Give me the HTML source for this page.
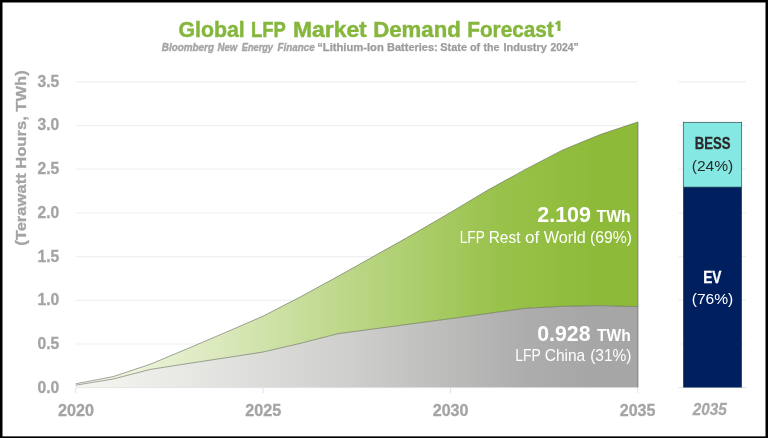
<!DOCTYPE html>
<html><head><meta charset="utf-8"><title>Global LFP Market Demand Forecast</title>
<style>
html,body{margin:0;padding:0;background:#000;}
body{width:768px;height:438px;overflow:hidden;font-family:"Liberation Sans",sans-serif;}
svg{display:block;font-family:"Liberation Sans",sans-serif;}
</style></head><body>
<svg width="768" height="438" viewBox="0 0 768 438">
<defs>
<linearGradient id="gg" gradientUnits="userSpaceOnUse" x1="76" y1="0" x2="638" y2="0">
<stop offset="0" stop-color="#f6f9ee"/><stop offset="0.25" stop-color="#dbe9bd"/><stop offset="0.5" stop-color="#bad684"/><stop offset="0.75" stop-color="#99c24b"/><stop offset="0.92" stop-color="#8dbb39"/><stop offset="1" stop-color="#8dbb39"/>
</linearGradient>
<linearGradient id="gr" gradientUnits="userSpaceOnUse" x1="76" y1="0" x2="638" y2="0">
<stop offset="0" stop-color="#f6f7f1"/><stop offset="0.2" stop-color="#e7e8e4"/><stop offset="0.5" stop-color="#cdcdcb"/><stop offset="0.8" stop-color="#adadad"/><stop offset="0.92" stop-color="#a6a6a6"/><stop offset="1" stop-color="#a6a6a6"/>
</linearGradient>
<filter id="sb" x="-2%" y="-2%" width="104%" height="104%"><feGaussianBlur stdDeviation="0.32"/></filter>
</defs>
<rect x="0" y="0" width="768" height="438" fill="#000"/>
<rect x="2.5" y="2.5" width="763" height="433.85" fill="#fff"/>
<g stroke="#f0f0f0" stroke-width="1.2">
<line x1="76" y1="81.8" x2="637.5" y2="81.8"/><line x1="678.4" y1="81.8" x2="746" y2="81.8"/>
<line x1="76" y1="125.5" x2="637.5" y2="125.5"/><line x1="678.4" y1="125.5" x2="746" y2="125.5"/>
<line x1="76" y1="169.2" x2="637.5" y2="169.2"/><line x1="678.4" y1="169.2" x2="746" y2="169.2"/>
<line x1="76" y1="212.9" x2="637.5" y2="212.9"/><line x1="678.4" y1="212.9" x2="746" y2="212.9"/>
<line x1="76" y1="256.6" x2="637.5" y2="256.6"/><line x1="678.4" y1="256.6" x2="746" y2="256.6"/>
<line x1="76" y1="300.3" x2="637.5" y2="300.3"/><line x1="678.4" y1="300.3" x2="746" y2="300.3"/>
<line x1="76" y1="344.0" x2="637.5" y2="344.0"/><line x1="678.4" y1="344.0" x2="746" y2="344.0"/>
</g>
<g stroke="#dfe3e8" stroke-width="1">
<line x1="75.7" y1="387.6" x2="638" y2="387.6"/><line x1="678.4" y1="387.6" x2="746" y2="387.6"/>
<line x1="75.7" y1="387.3" x2="75.7" y2="393"/>
<line x1="263.1" y1="387.3" x2="263.1" y2="393"/>
<line x1="450.4" y1="387.3" x2="450.4" y2="393"/>
<line x1="637.8" y1="387.3" x2="637.8" y2="393"/>
</g>
<polygon points="75.7,385.2 113.2,379.0 150.6,369.4 188.1,363.5 225.6,357.8 263.1,352.0 300.5,343.3 338.0,333.7 375.5,328.7 412.9,323.7 450.4,318.7 487.9,313.5 525.3,308.3 562.8,306.3 600.3,305.6 638.0,306.6 638.0,387.3 75.7,387.3" fill="url(#gr)"/>
<polygon points="75.7,383.8 113.2,376.6 150.6,364.1 188.1,348.4 225.6,332.4 263.1,316.1 300.5,296.8 338.0,276.3 375.5,255.3 412.9,234.3 450.4,212.5 487.9,190.0 525.3,169.4 562.8,149.9 600.3,134.5 638.0,121.9 638.0,306.6 600.3,305.6 562.8,306.3 525.3,308.3 487.9,313.5 450.4,318.7 412.9,323.7 375.5,328.7 338.0,333.7 300.5,343.3 263.1,352.0 225.6,357.8 188.1,363.5 150.6,369.4 113.2,379.0 75.7,385.2" fill="url(#gg)"/>
<polyline points="75.7,385.2 113.2,379.0 150.6,369.4 188.1,363.5 225.6,357.8 263.1,352.0 300.5,343.3 338.0,333.7 375.5,328.7 412.9,323.7 450.4,318.7 487.9,313.5 525.3,308.3 562.8,306.3 600.3,305.6 638.0,306.6" fill="none" stroke="#555a50" stroke-width="0.6" stroke-opacity="0.9"/>
<polyline points="75.7,383.8 113.2,376.6 150.6,364.1 188.1,348.4 225.6,332.4 263.1,316.1 300.5,296.8 338.0,276.3 375.5,255.3 412.9,234.3 450.4,212.5 487.9,190.0 525.3,169.4 562.8,149.9 600.3,134.5 638.0,121.9 638.0,387.3" fill="none" stroke="#555a50" stroke-width="0.6" stroke-opacity="0.9"/>
<!-- bar -->
<rect x="683.2" y="187.0" width="58.6" height="200.5" fill="#001f5e"/>
<rect x="683.3" y="122.3" width="58.4" height="64.8" fill="#85e8e3" stroke="#2e4a49" stroke-width="0.7"/>
<g filter="url(#sb)">
<text x="178.48" y="36.5" font-size="21.3" font-weight="bold" fill="#85b73d" stroke="#85b73d" stroke-width="0.45" textLength="66.30" lengthAdjust="spacingAndGlyphs">Global</text>
<text x="250.97" y="36.5" font-size="21.3" font-weight="bold" fill="#85b73d" stroke="#85b73d" stroke-width="0.45" textLength="34.80" lengthAdjust="spacingAndGlyphs">LFP</text>
<text x="292.98" y="36.5" font-size="21.3" font-weight="bold" fill="#85b73d" stroke="#85b73d" stroke-width="0.45" textLength="73.77" lengthAdjust="spacingAndGlyphs">Market</text>
<text x="373.22" y="36.5" font-size="21.3" font-weight="bold" fill="#85b73d" stroke="#85b73d" stroke-width="0.45" textLength="87.57" lengthAdjust="spacingAndGlyphs">Demand</text>
<text x="467.24" y="36.5" font-size="21.3" font-weight="bold" fill="#85b73d" stroke="#85b73d" stroke-width="0.45" textLength="86.51" lengthAdjust="spacingAndGlyphs">Forecast</text>
<text x="161.75" y="51.2" font-size="10.0" font-weight="bold" font-style="italic" fill="#a6a6a6" stroke="#a6a6a6" stroke-width="0.4" textLength="52.25" lengthAdjust="spacingAndGlyphs">Bloomberg</text>
<text x="217.50" y="51.2" font-size="10.0" font-weight="bold" font-style="italic" fill="#a6a6a6" stroke="#a6a6a6" stroke-width="0.4" textLength="19.79" lengthAdjust="spacingAndGlyphs">New</text>
<text x="241.74" y="51.2" font-size="10.0" font-weight="bold" font-style="italic" fill="#a6a6a6" stroke="#a6a6a6" stroke-width="0.4" textLength="31.27" lengthAdjust="spacingAndGlyphs">Energy</text>
<text x="277.50" y="51.2" font-size="10.0" font-weight="bold" font-style="italic" fill="#a6a6a6" stroke="#a6a6a6" stroke-width="0.4" textLength="37.25" lengthAdjust="spacingAndGlyphs">Finance</text>
<text x="317.24" y="51.2" font-size="10.0" font-weight="bold" fill="#9c9c9c" stroke="#9c9c9c" stroke-width="0.25" textLength="66.51" lengthAdjust="spacingAndGlyphs">“Lithium-Ion</text>
<text x="386.99" y="51.2" font-size="10.0" font-weight="bold" fill="#9c9c9c" stroke="#9c9c9c" stroke-width="0.25" textLength="50.78" lengthAdjust="spacingAndGlyphs">Batteries:</text>
<text x="440.25" y="51.2" font-size="10.0" font-weight="bold" fill="#9c9c9c" stroke="#9c9c9c" stroke-width="0.25" textLength="26.75" lengthAdjust="spacingAndGlyphs">State</text>
<text x="470.00" y="51.2" font-size="10.0" font-weight="bold" fill="#9c9c9c" stroke="#9c9c9c" stroke-width="0.25" textLength="10.25" lengthAdjust="spacingAndGlyphs">of</text>
<text x="483.50" y="51.2" font-size="10.0" font-weight="bold" fill="#9c9c9c" stroke="#9c9c9c" stroke-width="0.25" textLength="16.00" lengthAdjust="spacingAndGlyphs">the</text>
<text x="503.50" y="51.2" font-size="10.0" font-weight="bold" fill="#9c9c9c" stroke="#9c9c9c" stroke-width="0.25" textLength="43.25" lengthAdjust="spacingAndGlyphs">Industry</text>
<text x="550.50" y="51.2" font-size="10.0" font-weight="bold" fill="#9c9c9c" stroke="#9c9c9c" stroke-width="0.25" textLength="28.26" lengthAdjust="spacingAndGlyphs">2024”</text>
<text x="57.99" y="415.7" font-size="16.3" font-weight="bold" fill="#a4a4a4" stroke="#a4a4a4" stroke-width="0.3" textLength="36.01" lengthAdjust="spacingAndGlyphs">2020</text>
<text x="245.24" y="415.7" font-size="16.3" font-weight="bold" fill="#a4a4a4" stroke="#a4a4a4" stroke-width="0.3" textLength="36.01" lengthAdjust="spacingAndGlyphs">2025</text>
<text x="432.74" y="415.7" font-size="16.3" font-weight="bold" fill="#a4a4a4" stroke="#a4a4a4" stroke-width="0.3" textLength="35.76" lengthAdjust="spacingAndGlyphs">2030</text>
<text x="619.75" y="415.7" font-size="16.3" font-weight="bold" fill="#a4a4a4" stroke="#a4a4a4" stroke-width="0.3" textLength="35.76" lengthAdjust="spacingAndGlyphs">2035</text>
<text x="692.74" y="415.2" font-size="16.3" font-weight="bold" font-style="italic" fill="#a8a8a8" stroke="#a8a8a8" stroke-width="0.3" textLength="34.02" lengthAdjust="spacingAndGlyphs">2035</text>
<text x="537.23" y="222.2" font-size="21.8" font-weight="bold" fill="#fff" textLength="53.79" lengthAdjust="spacingAndGlyphs">2.109</text>
<text x="596.50" y="222.2" font-size="16" font-weight="bold" fill="#fff" textLength="34.27" lengthAdjust="spacingAndGlyphs">TWh</text>
<text x="459.69" y="242.5" font-size="16.2" fill="#fff" textLength="25.10" lengthAdjust="spacingAndGlyphs">LFP</text>
<text x="488.71" y="242.5" font-size="16.2" fill="#fff" textLength="31.79" lengthAdjust="spacingAndGlyphs">Rest</text>
<text x="524.98" y="242.5" font-size="16.2" fill="#fff" textLength="14.27" lengthAdjust="spacingAndGlyphs">of</text>
<text x="543.74" y="242.5" font-size="16.2" fill="#fff" textLength="42.03" lengthAdjust="spacingAndGlyphs">World</text>
<text x="589.96" y="242.5" font-size="16.2" fill="#fff" textLength="42.08" lengthAdjust="spacingAndGlyphs">(69%)</text>
<text x="537.24" y="341.2" font-size="21.8" font-weight="bold" fill="#fff" textLength="53.28" lengthAdjust="spacingAndGlyphs">0.928</text>
<text x="597.00" y="341.2" font-size="16" font-weight="bold" fill="#fff" textLength="33.77" lengthAdjust="spacingAndGlyphs">TWh</text>
<text x="515.18" y="361.2" font-size="16.2" fill="#fff" textLength="25.62" lengthAdjust="spacingAndGlyphs">LFP</text>
<text x="544.74" y="361.2" font-size="16.2" fill="#fff" textLength="40.51" lengthAdjust="spacingAndGlyphs">China</text>
<text x="590.21" y="361.2" font-size="16.2" fill="#fff" textLength="41.33" lengthAdjust="spacingAndGlyphs">(31%)</text>
<text x="694.73" y="149.4" font-size="16.3" font-weight="bold" fill="#2a2a2a" stroke="#2a2a2a" stroke-width="0.3" textLength="35.77" lengthAdjust="spacingAndGlyphs">BESS</text>
<text x="691.71" y="170.8" font-size="15.0" fill="#2a2a2a" textLength="41.59" lengthAdjust="spacingAndGlyphs">(24%)</text>
<text x="703.23" y="282.5" font-size="16.3" font-weight="bold" fill="#fff" stroke="#fff" stroke-width="0.3" textLength="18.27" lengthAdjust="spacingAndGlyphs">EV</text>
<text x="691.71" y="303.6" font-size="15.0" fill="#fff" textLength="41.59" lengthAdjust="spacingAndGlyphs">(76%)</text>

<path d="M557.5 30.9V23.9L556.1 25.1L554.9 23.6L557.9 20.7H560.5V30.9Z" fill="#85b73d"/>
<g font-size="16.2" font-weight="bold" fill="#a4a4a4" stroke="#a4a4a4" stroke-width="0.3">
<text x="37.49" y="86.7" textLength="21.77" lengthAdjust="spacingAndGlyphs">3.5</text>
<text x="37.49" y="130.4" textLength="21.77" lengthAdjust="spacingAndGlyphs">3.0</text>
<text x="37.49" y="174.1" textLength="21.77" lengthAdjust="spacingAndGlyphs">2.5</text>
<text x="37.49" y="217.8" textLength="21.77" lengthAdjust="spacingAndGlyphs">2.0</text>
<text x="37.49" y="261.5" textLength="21.77" lengthAdjust="spacingAndGlyphs">1.5</text>
<text x="37.49" y="305.2" textLength="21.77" lengthAdjust="spacingAndGlyphs">1.0</text>
<text x="37.49" y="348.9" textLength="21.77" lengthAdjust="spacingAndGlyphs">0.5</text>
<text x="37.49" y="392.6" textLength="21.77" lengthAdjust="spacingAndGlyphs">0.0</text>
</g>
<text transform="translate(26,245.0) rotate(-90)" x="-0.76" y="0" font-size="15.2" font-weight="bold" fill="#a4a4a4" stroke="#a4a4a4" stroke-width="0.3" textLength="175.51" lengthAdjust="spacingAndGlyphs">(Terawatt Hours, TWh)</text>
</g>
</svg>
</body></html>
